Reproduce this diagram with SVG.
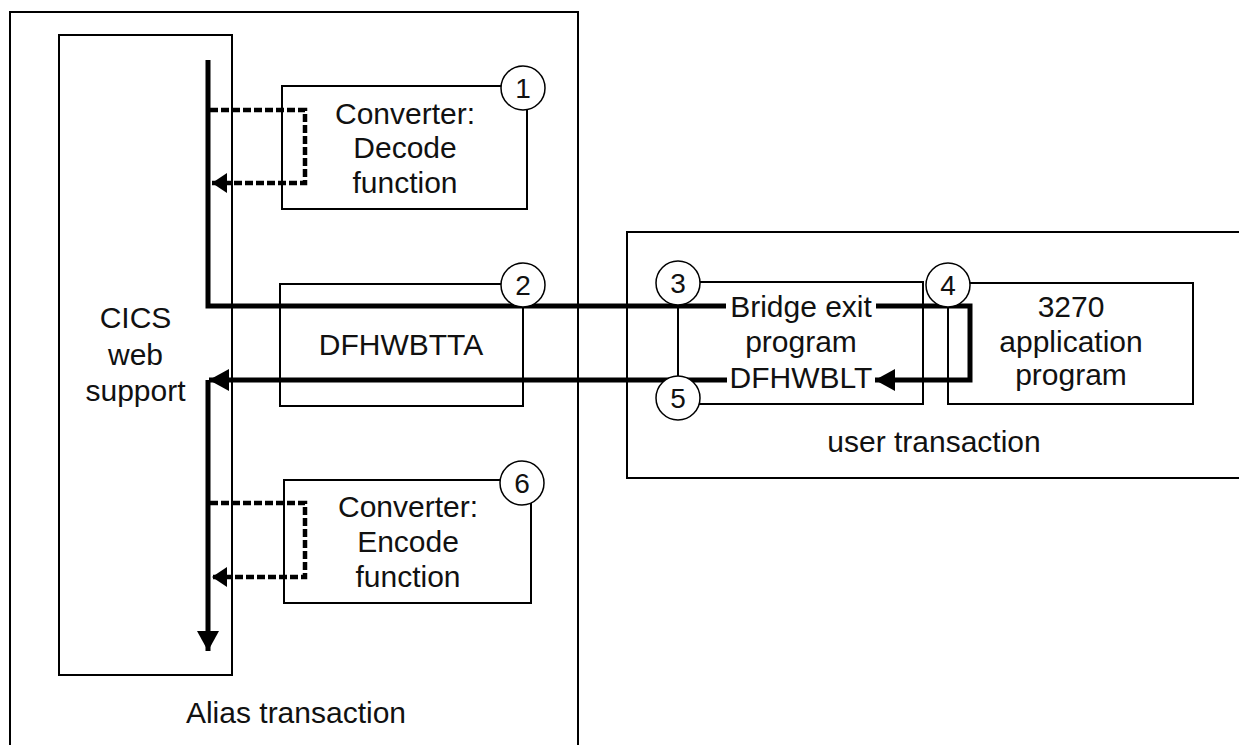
<svg xmlns="http://www.w3.org/2000/svg" width="1239" height="745" viewBox="0 0 1239 745">
<style>
.box{fill:none;stroke:#000;stroke-width:2}
.num{fill:#fff;stroke:#000;stroke-width:1.5}
text{font-family:"Liberation Sans",Arial,sans-serif;font-size:30px;fill:#111;text-anchor:middle}
.digit{font-size:28px}
.thick{fill:none;stroke:#000;stroke-width:5}
.dash{fill:none;stroke:#000;stroke-width:4.5;stroke-dasharray:8 3}
.thin{fill:none;stroke:#000;stroke-width:2}
</style>
<defs>
<marker id="ah" markerUnits="userSpaceOnUse" markerWidth="22" markerHeight="24" refX="20" refY="11" orient="auto">
<path d="M0,0 L20,11 L0,22 Z" fill="#000"/>
</marker>
<marker id="ahs" markerUnits="userSpaceOnUse" markerWidth="18" markerHeight="22" refX="15" refY="10" orient="auto">
<path d="M0,0 L15,10 L0,20 Z" fill="#000"/>
</marker>
</defs>
<rect fill="#fff" width="1239" height="745"/>

<g id="alias">
<path class="box" d="M10,750 V12 H578 V750"/>
<text x="296" y="723">Alias transaction</text>
</g>
<g id="user">
<path class="box" d="M1245,232 H627 V478 H1245"/>
<text x="934" y="452">user transaction</text>
</g>
<g id="cics">
<rect class="box" x="59" y="35" width="173" height="640"/>
<text x="135.5" y="328">CICS</text>
<text x="135.5" y="365">web</text>
<text x="135.5" y="401">support</text>
</g>
<g id="decode">
<rect class="box" x="282" y="86" width="245" height="123"/>
<text x="405" y="124">Converter:</text>
<text x="405" y="158">Decode</text>
<text x="405" y="193">function</text>
</g>
<g id="dfhwbtta">
<rect class="box" x="280" y="284" width="243" height="122"/>
<text x="401" y="355">DFHWBTTA</text>
</g>
<g id="encode">
<rect class="box" x="284" y="480" width="247" height="123"/>
<text x="408" y="517">Converter:</text>
<text x="408" y="552">Encode</text>
<text x="408" y="587">function</text>
</g>
<g id="bridge">
<path class="box" d="M678,282 H923 V404 H678"/>
<text x="801" y="317">Bridge exit</text>
<text x="801" y="352">program</text>
<text x="801" y="388">DFHWBLT</text>
</g>
<g id="app">
<rect class="box" x="948" y="283" width="245" height="121"/>
<text x="1071" y="317">3270</text>
<text x="1071" y="352">application</text>
<text x="1071" y="385">program</text>
</g>

<g id="connectors">
<path class="thin" d="M678,284 V399"/>
<path class="thick" d="M208,60 V306 H726"/>
<path class="thick" d="M876,306 H970 V380 H875" marker-end="url(#ah)"/>
<path class="thick" d="M727,380 H209" marker-end="url(#ah)"/>
<path class="thick" d="M208,380 V651" marker-end="url(#ah)"/>
<path class="dash" d="M210,110 H305 V183 H212" marker-end="url(#ahs)"/>
<path class="dash" d="M210,503 H305 V577 H212" marker-end="url(#ahs)"/>
</g>

<g id="step1"><circle class="num" cx="523" cy="88" r="22"/><text class="digit" x="523" y="98">1</text></g>
<g id="step2"><circle class="num" cx="523" cy="285" r="22"/><text class="digit" x="523" y="295">2</text></g>
<g id="step3"><circle class="num" cx="678" cy="283" r="22"/><text class="digit" x="678" y="293">3</text></g>
<g id="step4"><circle class="num" cx="948" cy="285" r="22"/><text class="digit" x="948" y="295">4</text></g>
<g id="step5"><circle class="num" cx="678" cy="398" r="22"/><text class="digit" x="678" y="408">5</text></g>
<g id="step6"><circle class="num" cx="522" cy="483" r="22"/><text class="digit" x="522" y="493">6</text></g>
</svg>
